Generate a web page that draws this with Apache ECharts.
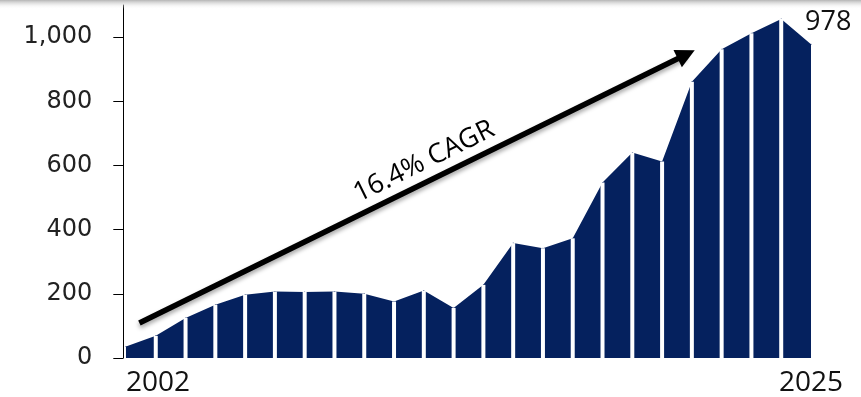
<!DOCTYPE html>
<html><head><meta charset="utf-8">
<script src="https://cdn.jsdelivr.net/npm/echarts@6/dist/echarts.min.js"></script>
<style>html,body{margin:0;padding:0;background:#fff}#c{width:861px;height:397px}</style>
</head><body><div id="c"></div>
<script>
// ---- data ----
const years = [2002,2003,2004,2005,2006,2007,2008,2009,2010,2011,2012,2013,2014,2015,2016,2017,2018,2019,2020,2021,2022,2023,2024,2025];
const values = [36,69,125,166,197,207,206,207,200,176,210,156,228,358,342,373,547,640,612,861,962,1012,1056,978];
const yTicks = [0,200,400,600,800,1000];
const xTickLabels = [2002,2025];
const cagrText = '16.4% CAGR';
const arrowFrom = [2002.45, 109];
const arrowTo = [2020.81, 946];
const labelFrom = [2003.78, 169];

const navy = '#05215E';
const chart = echarts.init(document.getElementById('c'));

const areaData = years.map((y,i)=> {
  const item = {value:[y, values[i]]};
  if (i === years.length-1) {
    item.label = {show:true, position:'top', distance:8, align:'left', offset:[-6,0],
      formatter: String(values[i]), fontFamily:'Open Sans', fontSize:27, color:'#111'};
  }
  return item;
});
const sepData = years.slice(1,-1).map((y,i)=>[y, values[i+1]]);

chart.setOption({
  animation:false,
  graphic:[{type:'rect', z:100, shape:{x:0,y:0,width:861,height:9},
    style:{fill:{type:'linear',x:0,y:0,x2:0,y2:1,colorStops:[{offset:0,color:'#b5b5b5'},{offset:1,color:'rgba(255,255,255,0)'}]}}}],
  grid:{left:123.3, right:50, top:5, bottom:38.7},
  xAxis:{type:'value', min:2001.91, max:2025,
    axisLine:{show:false}, axisTick:{show:false}, splitLine:{show:false},
    axisLabel:{customValues:xTickLabels, formatter:v=>String(v), fontFamily:'Open Sans', fontSize:28, color:'#111', margin:11,
      alignMinLabel:'left', alignMaxLabel:'center'}},
  yAxis:{type:'value', min:0, max:1100,
    axisLine:{show:true, lineStyle:{color:'#000', width:1}},
    axisTick:{show:true, customValues:yTicks, length:10, lineStyle:{color:'#000'}},
    splitLine:{show:false},
    axisLabel:{customValues:yTicks, formatter:v=>v.toLocaleString('en-US'), fontFamily:'DejaVu Sans', fontSize:24, color:'#222', margin:31}},
  series:[
    {type:'line', data:areaData, areaStyle:{color:navy, opacity:1}, lineStyle:{width:0},
      symbol:'circle', symbolSize:1, itemStyle:{color:navy}, z:2, silent:true},
    {type:'bar', data:sepData, barWidth:4, itemStyle:{color:'#fff'}, z:3, silent:true},
    {type:'line', data:[], z:5, silent:true,
      markLine:{silent:true, animation:false,
        data:[
          [{coord:arrowFrom, symbol:'none', symbolSize:0, lineStyle:{color:'#000', width:5.5, type:'solid', shadowBlur:4, shadowColor:'rgba(0,0,0,0.35)', shadowOffsetY:3}, label:{show:false}},
           {coord:arrowTo, symbol:'triangle', symbolSize:19}],
          [{coord:labelFrom, symbol:'none', symbolSize:0, lineStyle:{color:'rgba(0,0,0,0)', width:1},
            label:{show:true, position:'middle', formatter:cagrText, fontFamily:'Open Sans', fontSize:27, color:'#000', distance:6}},
           {coord:arrowTo, symbol:'none', symbolSize:0}]
        ],
        itemStyle:{color:'#000'},
        lineStyle:{color:'#000'}
      }}
  ]
});
</script></body></html>
